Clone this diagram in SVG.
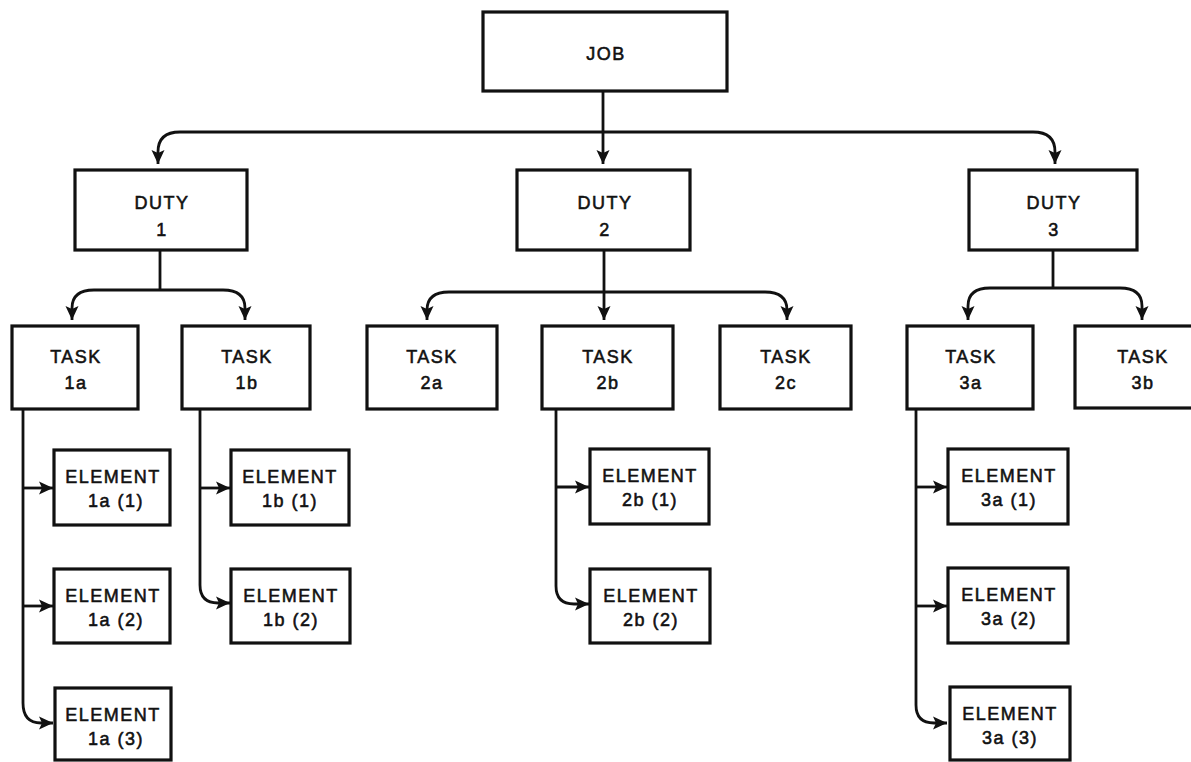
<svg xmlns="http://www.w3.org/2000/svg" width="1191" height="762" viewBox="0 0 1191 762">
  <style>
    .box { fill: #ffffff; stroke: #111111; stroke-width: 3.2; }
    .lbl { font-family: "Liberation Sans", Arial, sans-serif; font-size: 18px; letter-spacing: 1.5px; fill: #111111; stroke: #111111; stroke-width: 0.55; text-anchor: middle; }
    .wire { fill: none; stroke: #111111; stroke-width: 2.8; }
    .arr { marker-end: url(#head); }
  </style>
  <defs>
    <marker id="head" markerUnits="userSpaceOnUse" markerWidth="16" markerHeight="14" refX="14" refY="7" orient="auto">
      <path d="M0,0.5 L14,7 L0,13.5 L3,7 Z" fill="#111111"/>
    </marker>
  </defs>
  <rect width="1191" height="762" fill="#ffffff"/>

  <!-- connectors -->
  <g id="connectors">
    <!-- job to duties -->
    <path class="wire arr" d="M603,91 V164"/>
    <path class="wire arr" d="M603,132 H180 Q158,132 158,152 V164"/>
    <path class="wire arr" d="M603,132 H1033 Q1055,132 1055,152 V164"/>
    <!-- duty 1 to tasks -->
    <path class="wire" d="M160,250 V290"/>
    <path class="wire arr" d="M160,290 H94 Q72,290 72,308 V320"/>
    <path class="wire arr" d="M160,290 H223 Q245,290 245,308 V320"/>
    <!-- duty 2 to tasks -->
    <path class="wire arr" d="M604,250 V320"/>
    <path class="wire arr" d="M604,292 H449 Q427,292 427,310 V320"/>
    <path class="wire arr" d="M604,292 H765 Q787,292 787,310 V320"/>
    <!-- duty 3 to tasks -->
    <path class="wire" d="M1053,250 V288"/>
    <path class="wire arr" d="M1053,288 H990 Q968,288 968,306 V320"/>
    <path class="wire arr" d="M1053,288 H1120 Q1142,288 1142,306 V320"/>
    <!-- task 1a to elements -->
    <path class="wire arr" d="M23,409 V703 Q23,723 41,723 H53"/>
    <path class="wire arr" d="M23,488 H53"/>
    <path class="wire arr" d="M23,606 H53"/>
    <!-- task 1b to elements -->
    <path class="wire arr" d="M200,409 V585 Q200,603 218,603 H230"/>
    <path class="wire arr" d="M200,488 H230"/>
    <!-- task 2b to elements -->
    <path class="wire arr" d="M556,409 V586 Q556,604 574,604 H589"/>
    <path class="wire arr" d="M556,487 H589"/>
    <!-- task 3a to elements -->
    <path class="wire arr" d="M916,409 V705 Q916,723 934,723 H947"/>
    <path class="wire arr" d="M916,487 H947"/>
    <path class="wire arr" d="M916,606 H947"/>
  </g>

  <!-- job -->
  <g id="job">
    <rect class="box" x="483" y="12" width="244" height="79"/>
    <text class="lbl" x="606" y="60">JOB</text>
  </g>

  <!-- duties -->
  <g id="duty-1">
    <rect class="box" x="75" y="170" width="172" height="80"/>
    <text class="lbl" x="162" y="209">DUTY</text>
    <text class="lbl" x="162" y="236">1</text>
  </g>
  <g id="duty-2">
    <rect class="box" x="517" y="170" width="173" height="80"/>
    <text class="lbl" x="605" y="209">DUTY</text>
    <text class="lbl" x="605" y="236">2</text>
  </g>
  <g id="duty-3">
    <rect class="box" x="969" y="170" width="168" height="80"/>
    <text class="lbl" x="1054" y="209">DUTY</text>
    <text class="lbl" x="1054" y="236">3</text>
  </g>

  <!-- tasks -->
  <g id="task-1a">
    <rect class="box" x="12" y="326" width="126" height="83"/>
    <text class="lbl" x="76" y="363">TASK</text>
    <text class="lbl" x="76" y="389">1a</text>
  </g>
  <g id="task-1b">
    <rect class="box" x="182" y="326" width="128" height="83"/>
    <text class="lbl" x="247" y="363">TASK</text>
    <text class="lbl" x="247" y="389">1b</text>
  </g>
  <g id="task-2a">
    <rect class="box" x="367" y="326" width="130" height="83"/>
    <text class="lbl" x="432" y="363">TASK</text>
    <text class="lbl" x="432" y="389">2a</text>
  </g>
  <g id="task-2b">
    <rect class="box" x="542" y="326" width="131" height="83"/>
    <text class="lbl" x="608" y="363">TASK</text>
    <text class="lbl" x="608" y="389">2b</text>
  </g>
  <g id="task-2c">
    <rect class="box" x="720" y="326" width="131" height="83"/>
    <text class="lbl" x="786" y="363">TASK</text>
    <text class="lbl" x="786" y="389">2c</text>
  </g>
  <g id="task-3a">
    <rect class="box" x="907" y="326" width="126" height="83"/>
    <text class="lbl" x="971" y="363">TASK</text>
    <text class="lbl" x="971" y="389">3a</text>
  </g>
  <g id="task-3b">
    <rect class="box" x="1075" y="326" width="125" height="82"/>
    <text class="lbl" x="1143" y="363">TASK</text>
    <text class="lbl" x="1143" y="389">3b</text>
  </g>

  <!-- elements -->
  <g id="element-1a-1">
    <rect class="box" x="54" y="450" width="116" height="75"/>
    <text class="lbl" x="113" y="483">ELEMENT</text>
    <text class="lbl" x="116" y="507">1a (1)</text>
  </g>
  <g id="element-1a-2">
    <rect class="box" x="54" y="569" width="116" height="74"/>
    <text class="lbl" x="113" y="602">ELEMENT</text>
    <text class="lbl" x="116" y="626">1a (2)</text>
  </g>
  <g id="element-1a-3">
    <rect class="box" x="55" y="688" width="116" height="72"/>
    <text class="lbl" x="113" y="721">ELEMENT</text>
    <text class="lbl" x="116" y="745">1a (3)</text>
  </g>
  <g id="element-1b-1">
    <rect class="box" x="231" y="450" width="118" height="75"/>
    <text class="lbl" x="290" y="483">ELEMENT</text>
    <text class="lbl" x="290" y="507">1b (1)</text>
  </g>
  <g id="element-1b-2">
    <rect class="box" x="231" y="569" width="119" height="74"/>
    <text class="lbl" x="291" y="602">ELEMENT</text>
    <text class="lbl" x="291" y="626">1b (2)</text>
  </g>
  <g id="element-2b-1">
    <rect class="box" x="590" y="449" width="119" height="75"/>
    <text class="lbl" x="650" y="482">ELEMENT</text>
    <text class="lbl" x="650" y="506">2b (1)</text>
  </g>
  <g id="element-2b-2">
    <rect class="box" x="590" y="569" width="120" height="74"/>
    <text class="lbl" x="651" y="602">ELEMENT</text>
    <text class="lbl" x="651" y="626">2b (2)</text>
  </g>
  <g id="element-3a-1">
    <rect class="box" x="948" y="449" width="120" height="75"/>
    <text class="lbl" x="1009" y="482">ELEMENT</text>
    <text class="lbl" x="1009" y="506">3a (1)</text>
  </g>
  <g id="element-3a-2">
    <rect class="box" x="948" y="568" width="120" height="75"/>
    <text class="lbl" x="1009" y="601">ELEMENT</text>
    <text class="lbl" x="1009" y="625">3a (2)</text>
  </g>
  <g id="element-3a-3">
    <rect class="box" x="950" y="687" width="120" height="73"/>
    <text class="lbl" x="1010" y="720">ELEMENT</text>
    <text class="lbl" x="1010" y="744">3a (3)</text>
  </g>
</svg>
